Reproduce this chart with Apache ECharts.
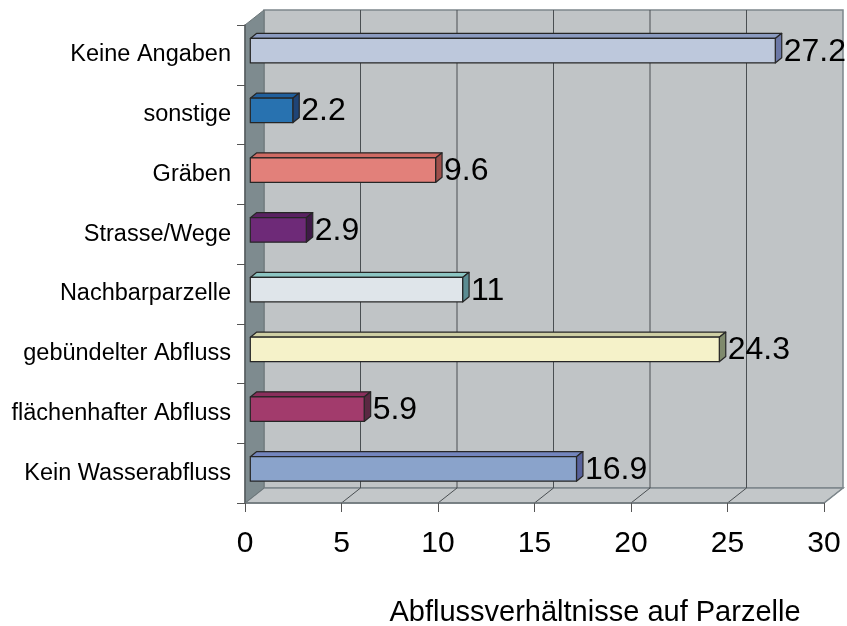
<!DOCTYPE html>
<html>
<head>
<meta charset="utf-8">
<script src="https://cdn.jsdelivr.net/npm/echarts@6/dist/echarts.min.js"></script>
<style>
  html, body { margin: 0; padding: 0; background: #fff; }
  #chart { width: 847px; height: 626px; }
</style>
</head>
<body>
<div id="chart"></div>
<script>
  // categories listed bottom -> top
  var categories = ['Kein Wasserabfluss', 'flächenhafter Abfluss', 'gebündelter Abfluss', 'Nachbarparzelle',
    'Strasse/Wege', 'Gräben', 'sonstige', 'Keine Angaben']
  var values = [16.9, 5.9, 24.3, 11, 2.9, 9.6, 2.2, 27.2]
  var ticks = [0, 5, 10, 15, 20, 25, 30]

  // front / top / side colours for each bar
  var barColors = [
    ['#8aa3cb', '#7385bd', '#58629c'],
    ['#a23b6c', '#8a2f5c', '#5a2842'],
    ['#f5f2c9', '#cfcfa4', '#7f8a6c'],
    ['#dfe5ea', '#8cc5c2', '#5b8c92'],
    ['#6e2a78', '#5a2262', '#3f1a47'],
    ['#e2807a', '#cf6a63', '#9e4f4b'],
    ['#2872b0', '#205f9c', '#1f4476'],
    ['#bdc8dc', '#8b9bc0', '#6c78a6']
  ]

  var DX = 19, DY = -15
  var FONT = 'Liberation Sans, Arial, sans-serif'

  var chart = echarts.init(document.getElementById('chart'))

  function renderFrame(params, api) {
    var cs = params.coordSys
    var x = cs.x, y = cs.y, w = cs.width, h = cs.height
    var children = []
    // back wall
    children.push({
      type: 'polygon',
      shape: { points: [[x + DX, y + DY], [x + w + DX, y + DY], [x + w + DX, y + h + DY], [x + DX, y + h + DY]] },
      style: { fill: '#c0c4c6', stroke: '#7e878c', lineWidth: 1.5 }
    })
    // floor
    children.push({
      type: 'polygon',
      shape: { points: [[x, y + h], [x + DX, y + h + DY], [x + w + DX, y + h + DY], [x + w, y + h]] },
      style: { fill: '#c3c7c9', stroke: '#7e878c', lineWidth: 1.5 }
    })
    // left wall
    children.push({
      type: 'polygon',
      shape: { points: [[x, y], [x + DX, y + DY], [x + DX, y + h + DY], [x, y + h]] },
      style: { fill: '#7e8b8f', stroke: '#6c7679', lineWidth: 1 }
    })
    ticks.forEach(function (t) {
      var px = api.coord([t, 0])[0]
      if (t > 0 && t < 30) {
        children.push({
          type: 'line',
          shape: { x1: px + DX, y1: y + DY, x2: px + DX, y2: y + h + DY },
          style: { stroke: '#4a4f52', lineWidth: 1 }
        })
      }
      if (t > 0) {
        children.push({
          type: 'line',
          shape: { x1: px, y1: y + h, x2: px + DX, y2: y + h + DY },
          style: { stroke: t === 30 ? '#7e878c' : '#4a4f52', lineWidth: 1 }
        })
      }
    })
    return { type: 'group', children: children }
  }

  function renderBar(params, api) {
    var idx = api.value(1)
    var val = api.value(0)
    var band = api.size([0, 1])[1]
    var s = api.coord([0, idx])
    var e = api.coord([val, idx])
    var fx = DX * 0.28, fy = DY * 0.28
    var bx = DX * 0.62, by = DY * 0.62
    var dxd = bx - fx, dyd = by - fy
    var fh = band * 0.41
    var x0 = s[0] + fx, x1 = e[0] + fx
    var yt = s[1] + fy - fh / 2, yb = s[1] + fy + fh / 2
    var col = barColors[params.dataIndex]
    var stroke = { stroke: '#262626', lineWidth: 1.2, lineJoin: 'round' }
    return {
      type: 'group',
      children: [
        {
          type: 'polygon',
          shape: { points: [[x0, yt], [x1, yt], [x1 + dxd, yt + dyd], [x0 + dxd, yt + dyd]] },
          style: Object.assign({ fill: col[1] }, stroke)
        },
        {
          type: 'polygon',
          shape: { points: [[x1, yt], [x1 + dxd, yt + dyd], [x1 + dxd, yb + dyd], [x1, yb]] },
          style: Object.assign({ fill: col[2] }, stroke)
        },
        {
          type: 'rect',
          shape: { x: x0, y: yt, width: x1 - x0, height: yb - yt },
          style: Object.assign({ fill: col[0] }, stroke)
        },
        {
          type: 'text',
          style: {
            text: String(val),
            x: x1 + dxd + 2,
            y: s[1] + fy + 1,
            verticalAlign: 'middle',
            align: 'left',
            fill: '#000',
            font: '32px ' + FONT
          }
        }
      ]
    }
  }

  chart.setOption({
    backgroundColor: '#ffffff',
    animation: false,
    grid: {
      left: 245,
      right: 23,
      top: 25,
      bottom: 123,
      containLabel: false,
      outerBoundsMode: 'none'
    },
    xAxis: {
      type: 'value',
      min: 0,
      max: 30,
      interval: 5,
      z: 5,
      name: 'Abflussverhältnisse auf Parzelle',
      nameLocation: 'middle',
      nameGap: 95,
      nameTextStyle: {
        fontFamily: FONT,
        fontSize: 29,
        color: '#000',
        padding: [0, 0, 0, 121]
      },
      axisLine: { show: true, lineStyle: { color: '#6f777b', width: 1.5 } },
      axisTick: { show: true, length: 9, lineStyle: { color: '#555' } },
      axisLabel: { fontFamily: FONT, fontSize: 30, color: '#000', margin: 26 },
      splitLine: { show: false }
    },
    yAxis: {
      type: 'category',
      data: categories,
      z: 5,
      axisLine: { show: true, lineStyle: { color: '#555b5e', width: 1.5 } },
      axisTick: { show: true, length: 8, lineStyle: { color: '#555' } },
      axisLabel: { fontFamily: FONT, fontSize: 23.5, color: '#000', margin: 14 },
      splitLine: { show: false }
    },
    series: [
      {
        name: 'frame',
        type: 'custom',
        z: 1,
        silent: true,
        clip: false,
        renderItem: renderFrame,
        data: [[0, 0]]
      },
      {
        name: 'Abfluss',
        type: 'custom',
        z: 3,
        clip: false,
        renderItem: renderBar,
        encode: { x: 0, y: 1 },
        data: values.map(function (v, i) { return [v, i] })
      }
    ]
  })
</script>
</body>
</html>
